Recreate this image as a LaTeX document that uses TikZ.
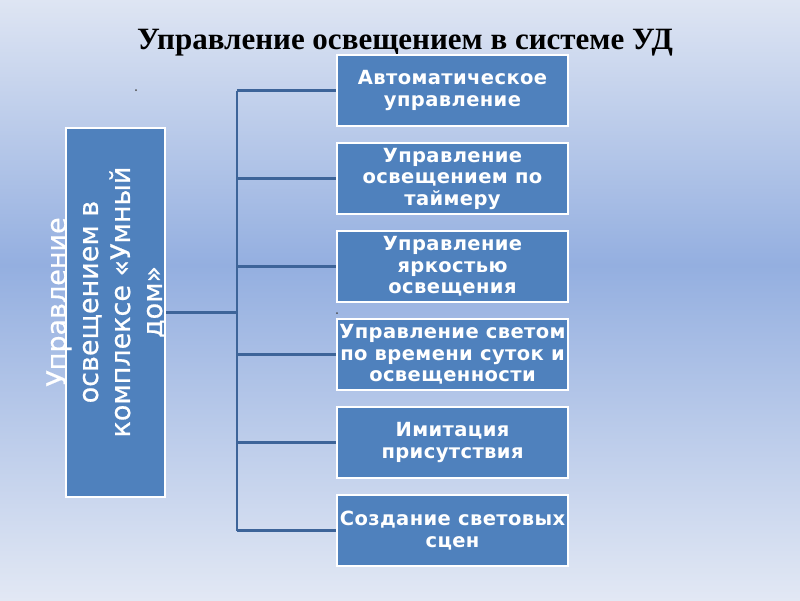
\documentclass[tikz,border=0pt]{standalone}
\usepackage{fontspec}
\setmainfont{DejaVu Sans}
\newfontfamily\titlefont{Liberation Serif}
\newfontfamily\boxfont[LetterSpace=2]{DejaVu Sans Bold}
\newfontfamily\sidefont[FakeBold=0.6]{DejaVu Sans}
\usetikzlibrary{positioning}

\definecolor{bgtop}{HTML}{DEE5F3}
\definecolor{bgmid}{HTML}{94AFE0}
\definecolor{bgbot}{HTML}{E2E8F4}
\definecolor{boxblue}{HTML}{4F81BD}
\definecolor{linkblue}{HTML}{3D6499}

\tikzset{
  kind/.style={fill=boxblue, draw=white, line width=2pt, text=white,
    minimum width=231pt, minimum height=71pt, inner sep=0pt, align=center,
    font=\boxfont\fontsize{19.5}{21.5}\selectfont},
  link/.style={draw=linkblue, line width=2.2pt}
}

\begin{document}
\begin{tikzpicture}[x=1pt, y=-1pt]
  % background
  \useasboundingbox (0,0) rectangle (800,600);
  \shade[top color=bgtop, bottom color=bgmid] (0,0) rectangle (800,265);
  \shade[top color=bgmid, bottom color=bgbot] (0,265) rectangle (800,600);

  % title
  \node[font=\titlefont\fontsize{31}{36}\selectfont\bfseries] (title) at (405,43)
    {Управление освещением в системе УД};

  % left box
  \node[fill=boxblue, draw=white, line width=2pt, minimum width=99pt,
        minimum height=369pt, inner sep=0pt] (main) at (115.5,312.5) {};
  \node[rotate=90, align=center, text=white,
        font=\sidefont\fontsize{27}{32}\selectfont] (maintext) at (106,302)
    {Управление\\освещением в\\комплексе «Умный\\дом»};

  % right boxes
  \node[kind] (auto) at (452.5,90.5) {Автоматическое\\управление};
  \node[kind, below=15pt of auto] (timer) {Управление\\освещением по\\таймеру};
  \node[kind, below=15pt of timer] (bright) {Управление\\яркостью\\освещения};
  \node[kind, below=15pt of bright] (daytime) {Управление светом\\по времени суток и\\освещенности};
  \node[kind, below=15pt of daytime] (presence) {Имитация\\присутствия};
  \node[kind, below=15pt of presence] (scenes) {Создание световых\\сцен};

  % trunk line
  \coordinate (trunk) at (237,0);
  \draw[link] (auto.west -| trunk) -- (scenes.west -| trunk);
  \draw[link] (main.east) -- (main.east -| trunk);

  % branches
  \draw[link] (auto.west -| trunk) -- (auto.west);
  \draw[link] (timer.west -| trunk) -- (timer.west);
  \draw[link] (bright.west -| trunk) -- (bright.west);
  \draw[link] (daytime.west -| trunk) -- (daytime.west);
  \draw[link] (presence.west -| trunk) -- (presence.west);
  \draw[link] (scenes.west -| trunk) -- (scenes.west);

  % stray dots
  \coordinate (dotA) at (136,90);
  \coordinate (dotB) at (337,313);
  \fill[black!70] (dotA) circle (1pt);
  \fill[black!70] (dotB) circle (1pt);
\end{tikzpicture}
\end{document}
